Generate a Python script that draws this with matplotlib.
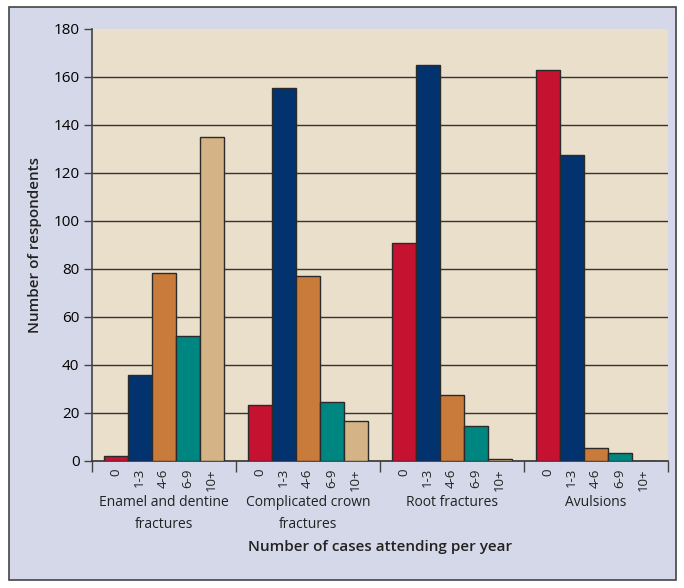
import numpy as np
import matplotlib
matplotlib.use('Agg')
import matplotlib.pyplot as plt
from matplotlib.patches import Rectangle

# ── Data ─────────────────────────────────────────────────────
groups = ['Enamel and dentine\nfractures', 'Complicated crown\nfractures',
          'Root fractures', 'Avulsions']
bins = ['0', '1-3', '4-6', '6-9', '10+']
counts_0 = [2, 23.5, 91, 163]
counts_1_3 = [36, 155.5, 165, 127.5]
counts_4_6 = [78.5, 77, 27.5, 5.5]
counts_6_9 = [52, 24.5, 14.5, 3.2]
counts_10 = [135, 16.5, 1, 0]
colors = ['#c41230', '#03336f', '#c97b3b', '#008681', '#d4b386']

series = [counts_0, counts_1_3, counts_4_6, counts_6_9, counts_10]

plt.rcParams['font.family'] = ['Open Sans', 'DejaVu Sans']

fig = plt.figure(figsize=(6.84, 5.88), dpi=100)
fig.patch.set_facecolor('white')
fig.patches.append(Rectangle((9 / 684, 1 - 580 / 588), 667 / 684, 573 / 588,
                             transform=fig.transFigure, facecolor='#d5d8e8',
                             edgecolor='#444444', linewidth=1.2, zorder=-10))

ax = fig.add_axes([92 / 684, 1 - 461 / 588, 576 / 684, 432 / 588])
ax.set_facecolor('#eadfca')

width = 1 / 6
offset = 0.08
for j, vals in enumerate(series):
    x = np.arange(len(groups)) + offset + j * width
    ax.bar(x, vals, width=width, align='edge', color=colors[j],
           edgecolor='#2a2a2a', linewidth=1.0, zorder=3)

ax.set_xlim(0, 4)
ax.set_ylim(0, 180)
ax.set_yticks(np.arange(0, 181, 20))
for yv in range(20, 180, 20):
    ax.axhline(yv, color='#333333', linewidth=1.0, zorder=1)

for s in ['top', 'right']:
    ax.spines[s].set_visible(False)
ax.spines['left'].set_color('#444444')
ax.spines['bottom'].set_color('#333333')
ax.spines['left'].set_linewidth(1.2)
ax.spines['bottom'].set_linewidth(1.2)
ax.tick_params(axis='y', length=6, width=1.0, color='#444444',
               labelsize=11, pad=3)

# group separators as x ticks
ax.set_xticks(np.arange(0, 5))
ax.set_xticklabels([])
ax.tick_params(axis='x', length=8, width=1.0, color='#444444', direction='out')

# bin labels under each bar
for g in range(len(groups)):
    for j, b in enumerate(bins):
        xc = g + offset + (j + 0.5) * width
        ax.text(xc, -3, b, rotation=90, ha='center', va='top', fontsize=9.5,
                color='#222222')
    ax.text(g + 0.5, -14, groups[g], ha='center', va='top', fontsize=10,
            color='#222222', linespacing=1.65)

ax.set_ylabel('Number of respondents', fontsize=11, fontweight='semibold',
              color='#222222', labelpad=8)
fig.text(380 / 684, 1 - 547 / 588, 'Number of cases attending per year',
         ha='center', va='center', fontsize=11, fontweight='semibold',
         color='#222222')

plt.savefig('out.png', dpi=100)
